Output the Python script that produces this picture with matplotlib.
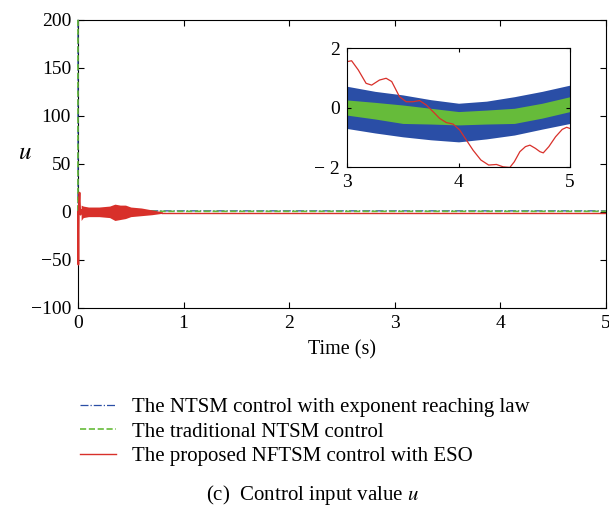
import numpy as np
import matplotlib
matplotlib.use('Agg')
import matplotlib.pyplot as plt

plt.rcParams['font.family'] = ['Liberation Serif', 'DejaVu Serif']
plt.rcParams['font.size'] = 14
plt.rcParams['mathtext.fontset'] = 'stix'

BLUE = '#2a4ea6'
GREEN = '#66bb3a'
RED = '#d8302a'

# main plot: start-up transient
blue_t = [0.0, 0.0, 0.004, 0.8, 5.0]
blue_u = [200.0, 0.0, 1.0, 1.0, 1.0]
green_t = [0.0, 0.0, 0.004, 5.0]
green_u = [200.0, 0.0, 0.5, 0.5]
red_t = [0.0, 0.004, 0.008, 0.015, 0.02, 0.025, 0.03]
red_u = [0.0, -55.0, 5.0, 20.0, 4.0, -3.0, 2.0]
# red chattering envelope before settling
red_band_t = [0.03, 0.05, 0.1, 0.2, 0.3, 0.35, 0.4, 0.45, 0.5, 0.6, 0.7, 0.8]
red_band_hi = [7.0, 6.0, 5.0, 5.0, 6.0, 8.0, 7.0, 7.0, 5.0, 4.0, 2.0, 0.0]
red_band_lo = [-9.0, -6.0, -5.0, -5.0, -6.0, -9.0, -8.0, -7.0, -5.0, -4.0, -3.0, -1.5]
red_tail_t = [0.8, 5.0]
red_tail_u = [-1.0, -1.0]

# inset (3..5 s)
in_t = [3.0, 3.25, 3.5, 3.75, 4.0, 4.25, 4.5, 4.75, 5.0]
blue_hi = [0.72, 0.55, 0.43, 0.27, 0.15, 0.22, 0.37, 0.55, 0.76]
blue_lo = [-0.70, -0.85, -0.98, -1.08, -1.15, -1.05, -0.92, -0.72, -0.53]
green_hi = [0.26, 0.18, 0.09, -0.02, -0.13, -0.08, -0.02, 0.15, 0.37]
green_lo = [-0.25, -0.38, -0.53, -0.55, -0.58, -0.55, -0.53, -0.35, -0.13]
red_in_t = [3.0, 3.04, 3.1, 3.17, 3.22, 3.29, 3.35, 3.4, 3.47, 3.53, 3.59, 3.65,
            3.71, 3.77, 3.83, 3.89, 3.95, 4.01, 4.07, 4.13, 4.2, 4.27, 4.34,
            4.4, 4.46, 4.5, 4.55, 4.6, 4.64, 4.69, 4.73, 4.76, 4.81, 4.87,
            4.93, 4.97, 5.0]
red_in_u = [1.55, 1.58, 1.27, 0.82, 0.76, 0.93, 0.99, 0.88, 0.37, 0.2, 0.2, 0.24,
            0.09, -0.13, -0.36, -0.5, -0.55, -0.75, -1.09, -1.43, -1.76, -1.93,
            -1.91, -1.99, -2.01, -1.82, -1.48, -1.31, -1.26, -1.37, -1.48, -1.52,
            -1.31, -0.98, -0.73, -0.66, -0.7]

fig = plt.figure(figsize=(6.09, 5.08), dpi=100)
ax = fig.add_axes([0.128, 0.394, 0.867, 0.567])

l1, = ax.plot(blue_t, blue_u, color=BLUE, ls='-.', lw=0.9, zorder=3, clip_on=False)
l2, = ax.plot(green_t, green_u, color=GREEN, ls='--', lw=1.2, zorder=3.1, clip_on=False)
ax.fill_between(red_band_t, red_band_lo, red_band_hi, color=RED, lw=0, zorder=3.2)
ax.plot(red_t, red_u, color=RED, lw=1.3, zorder=3.2, clip_on=False)
l3, = ax.plot(red_tail_t, red_tail_u, color=RED, lw=1.0, zorder=3.2)

ax.set_xlim(0, 5)
ax.set_ylim(-100, 200)
ax.set_xticks([0, 1, 2, 3, 4, 5])
ax.set_yticks([-100, -50, 0, 50, 100, 150, 200])
ax.set_yticklabels(['\u2212100', '\u221250', '0', '50', '100', '150', '200'])
ax.tick_params(direction='in', top=True, right=True, labelsize=14, length=4, pad=5)
ax.set_xlabel('Time (s)', fontsize=14.5, labelpad=6)
ax.set_ylabel('$u$', fontsize=18, rotation=0)
ax.yaxis.set_label_coords(-0.1, 0.5)

ins = fig.add_axes([0.570, 0.671, 0.366, 0.234])
ins.fill_between(in_t, blue_lo, blue_hi, color=BLUE, lw=0)
ins.fill_between(in_t, green_lo, green_hi, color=GREEN, lw=0)
ins.plot(red_in_t, red_in_u, color=RED, lw=0.9)
ins.set_xlim(3, 5)
ins.set_ylim(-2, 2)
ins.set_xticks([3, 4, 5])
ins.set_yticks([-2, 0, 2])
ins.set_yticklabels(['\u2212 2', '0', '2'])
ins.tick_params(direction='in', top=True, right=True, labelsize=14, length=3, pad=5)

fig.legend([l1, l2, l3],
           ['The NTSM control with exponent reaching law',
            'The traditional NTSM control',
            'The proposed NFTSM control with ESO'],
           loc='upper left', bbox_to_anchor=(0.118, 0.234), frameon=False,
           fontsize=15, handlelength=1.7, handletextpad=0.8, labelspacing=0.24,
           borderaxespad=0)
fig.text(0.513, 0.016, '(c)  Control input value $u$', ha='center', fontsize=15)

fig.savefig('out.png', dpi=100)
